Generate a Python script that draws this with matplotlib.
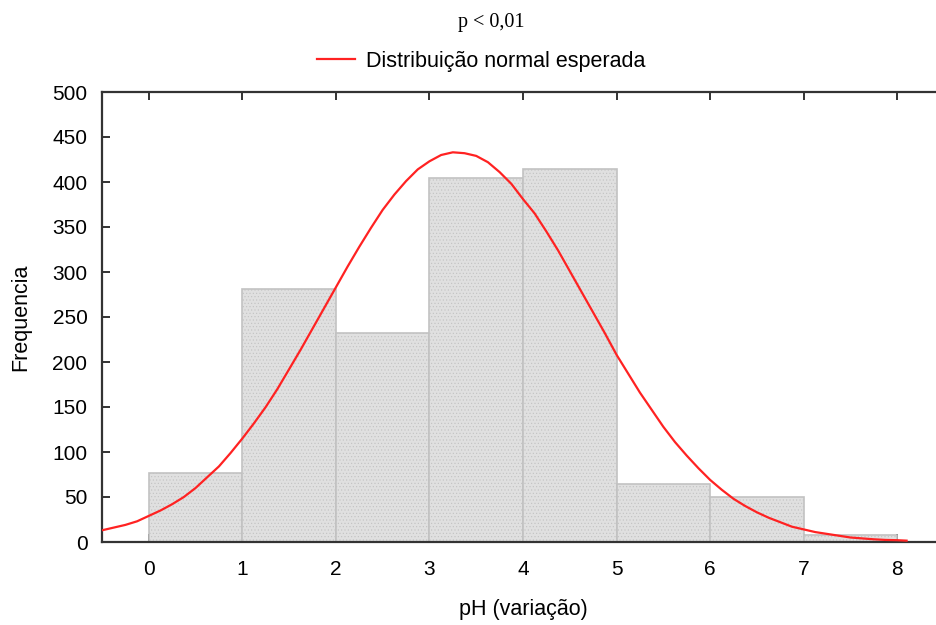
import matplotlib.pyplot as plt

# histogram counts per pH bin (bin edges 0..8)
bin_edges = [0, 1, 2, 3, 4, 5, 6, 7, 8]
counts = [77, 281, 232, 405, 414, 65, 50, 8]

# expected normal curve
curve_x = [-0.5, -0.375, -0.25, -0.125, 0.0, 0.125, 0.25, 0.375, 0.5, 0.625, 0.75, 0.875,
           1.0, 1.125, 1.25, 1.375, 1.5, 1.625, 1.75, 1.875, 2.0, 2.125, 2.25, 2.375,
           2.5, 2.625, 2.75, 2.875, 3.0, 3.125, 3.25, 3.375, 3.5, 3.625, 3.75, 3.875,
           4.0, 4.125, 4.25, 4.375, 4.5, 4.625, 4.75, 4.875, 5.0, 5.125, 5.25, 5.375,
           5.5, 5.625, 5.75, 5.875, 6.0, 6.125, 6.25, 6.375, 6.5, 6.625, 6.75, 6.875,
           7.0, 7.125, 7.25, 7.375, 7.5, 7.625, 7.75, 7.875, 8.0, 8.1]
curve_y = [13, 16, 19, 23, 29, 35, 42, 50, 60, 72, 84, 99,
           115, 132, 150, 170, 192, 214, 237, 260, 283, 306, 328, 349,
           369, 386, 401, 414, 423, 430, 433, 432, 429, 422, 411, 398,
           381, 365, 345, 324, 301, 278, 255, 232, 208, 187, 166, 147,
           128, 111, 96, 82, 69, 58, 48, 40, 33, 27, 22, 17,
           14, 11, 9, 7, 5, 4, 3, 2.3, 2, 1.5]

x_ticks = [0, 1, 2, 3, 4, 5, 6, 7, 8]
y_ticks = [0, 50, 100, 150, 200, 250, 300, 350, 400, 450, 500]

plt.rcParams['font.family'] = ['Liberation Sans', 'DejaVu Sans']
plt.rcParams['hatch.linewidth'] = 0.4

fig = plt.figure(figsize=(9.37, 6.25), dpi=100)
ax = fig.add_axes([102 / 937, 83 / 625, 842 / 937, 450 / 625])

widths = [bin_edges[i + 1] - bin_edges[i] for i in range(len(counts))]
ax.bar(bin_edges[:-1], counts, width=widths, align='edge',
       facecolor='#e0e0e0', edgecolor='#c2c2c2', hatch='.....', linewidth=1.2, zorder=2)

line, = ax.plot(curve_x, curve_y, color='#ff2222', linewidth=1.6, zorder=3,
                label='Distribuição normal esperada')

ax.set_xlim(-0.5, 8.5)
ax.set_ylim(0, 500)
ax.set_xticks(x_ticks)
ax.set_yticks(y_ticks)
ax.tick_params(direction='in', length=6, width=1.3, labelsize=15, color='#222222',
               top=True, right=True)
ax.tick_params(axis='x', pad=13)
ax.tick_params(axis='y', pad=10.5)
for s in ax.spines.values():
    s.set_linewidth(1.6)
    s.set_color('#333333')

ax.set_xlabel('pH (variação)', fontsize=15.5, labelpad=14)
ax.set_ylabel('Frequencia', fontsize=15.5, labelpad=15)

fig.text(491 / 937, 1 - 22 / 625, 'p < 0,01', ha='center', va='center',
         fontsize=14.5, family='Liberation Serif')
fig.legend(handles=[line], loc='center', bbox_to_anchor=(481 / 937, 1 - 61 / 625),
           frameon=False, fontsize=15.5, handlelength=1.75, handletextpad=0.5)

fig.savefig('out.png', dpi=100)
